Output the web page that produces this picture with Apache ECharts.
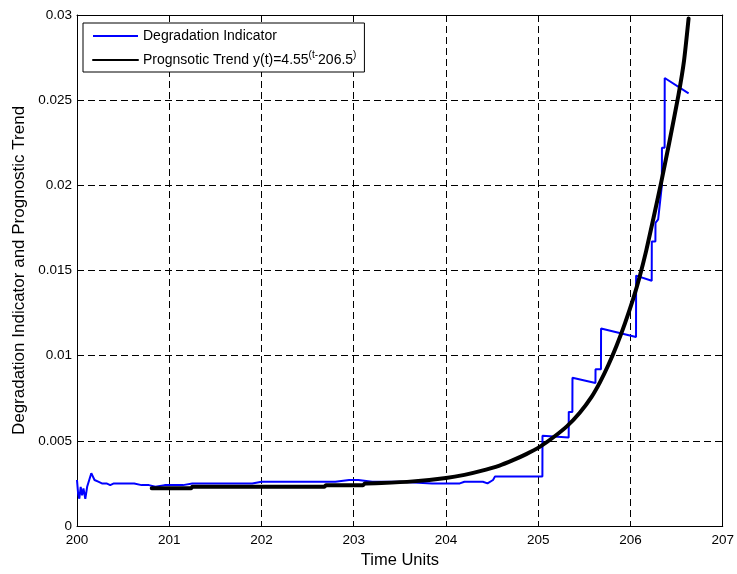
<!DOCTYPE html>
<html>
<head>
<meta charset="utf-8">
<script src="https://cdn.jsdelivr.net/npm/echarts@6/dist/echarts.min.js"></script>
<style>
  html, body { margin: 0; padding: 0; background: #fff; }
  #chart { width: 737px; height: 574px; }
</style>
</head>
<body>
<div id="chart"></div>
<script>
// Degradation indicator samples (time, value)
const indicatorTime = [
  200.000, 200.012, 200.025, 200.040, 200.055, 200.070, 200.090, 200.110, 200.130, 200.155,
  200.190, 200.230, 200.270, 200.320, 200.360, 200.400, 200.420, 200.440, 200.500, 200.560,
  200.620, 200.700, 200.780, 200.850, 200.950, 201.050, 201.150, 201.250, 201.330, 201.450,
  201.600, 201.750, 201.900, 202.000, 202.200, 202.400, 202.600, 202.800, 202.950, 203.050,
  203.200, 203.500, 203.850, 203.950, 204.150, 204.200, 204.400, 204.450, 204.510, 204.530,
  204.730, 204.760, 205.045, 205.046, 205.330, 205.331, 205.370, 205.371, 205.620, 205.621,
  205.680, 205.681, 206.060, 206.061, 206.230, 206.231, 206.270, 206.271, 206.300, 206.340,
  206.341, 206.370, 206.371, 206.630
];
const indicatorValue = [
  0.0027, 0.0019, 0.0016, 0.0023, 0.0018, 0.0022, 0.0016, 0.0023, 0.0023, 0.0031,
  0.0027, 0.0026, 0.0025, 0.0025, 0.0024, 0.0025, 0.0026, 0.0025, 0.0025, 0.0025,
  0.0025, 0.0024, 0.0024, 0.0023, 0.0024, 0.0024, 0.0024, 0.0025, 0.0025, 0.0025,
  0.0025, 0.0025, 0.0025, 0.0026, 0.0026, 0.0026, 0.0026, 0.0026, 0.0027, 0.0027,
  0.0026, 0.0026, 0.0025, 0.0025, 0.0025, 0.0026, 0.0026, 0.0025, 0.0027, 0.0029,
  0.0029, 0.0029, 0.0029, 0.0053, 0.0052, 0.0067, 0.0067, 0.0087, 0.0084, 0.0092,
  0.0092, 0.0116, 0.0111, 0.0147, 0.0144, 0.0167, 0.0167, 0.0178, 0.0180, 0.0200,
  0.0222, 0.0222, 0.0263, 0.0254
];

// Prognostic trend samples (time, value)
const trendTime = [
  200.81, 201.24, 201.25, 202.68, 202.70, 203.10, 203.12, 203.30, 203.64, 204.00,
  204.20, 204.37, 204.58, 204.72, 204.87, 205.02, 205.15, 205.31, 205.45, 205.58,
  205.67, 205.76, 205.85, 205.94, 206.03, 206.10, 206.17, 206.25, 206.33, 206.42,
  206.52, 206.58, 206.63
];
const trendValue = [
  0.00222, 0.00222, 0.00231, 0.00231, 0.00239, 0.00239, 0.00250, 0.00252, 0.00262, 0.00282,
  0.00300, 0.00322, 0.00355, 0.00385, 0.00422, 0.00466, 0.00515, 0.00585, 0.00665, 0.00760,
  0.00845, 0.00945, 0.01060, 0.01190, 0.01335, 0.01465, 0.01615, 0.01810, 0.02010, 0.02250,
  0.02530, 0.02730, 0.02980
];

const xTicks = { min: 200, max: 207, step: 1 };
const yTicks = { min: 0, max: 0.03, step: 0.005 };

const indicatorName = 'Degradation Indicator';
const trendName = 'Prognsotic Trend';

const pair = (ts, vs) => ts.map((t, i) => [t, vs[i]]);

const font = '"Liberation Sans", Arial, sans-serif';
const dash = [7, 4];

const chart = echarts.init(document.getElementById('chart'), null, { renderer: 'canvas' });

const baseAxis = {
  type: 'value',
  axisLine: { show: true, onZero: false, lineStyle: { color: '#000', width: 1 } },
  axisTick: { show: true, inside: true, length: 5, lineStyle: { color: '#000' } },
  axisLabel: { color: '#000', fontFamily: font, fontSize: 13.5 },
  splitLine: { show: false }
};

chart.setOption({
  animation: false,
  backgroundColor: '#fff',
  grid: { left: 77, right: 14, top: 15, bottom: 48, containLabel: false },
  legend: {
    orient: 'vertical',
    left: 83,
    top: 23,
    padding: [6, 8, 5, 9],
    itemGap: 7,
    itemWidth: 45,
    itemHeight: 14,
    backgroundColor: '#fff',
    borderColor: '#000',
    borderWidth: 1,
    borderRadius: 0,
    itemStyle: { opacity: 0 },
    data: [indicatorName, trendName],
    textStyle: {
      color: '#000', fontFamily: font, fontSize: 14,
      rich: {
        n: { fontFamily: font, fontSize: 14, color: '#000' },
        sup: { fontFamily: font, fontSize: 10, color: '#000', padding: [0, 0, 10, 0] }
      }
    },
    formatter: function (name) {
      if (name === trendName) {
        return '{n|Prognsotic Trend y(t)=4.55}{sup|(t-}{n|206.5}{sup|)}';
      }
      return '{n|' + name + '}';
    }
  },
  xAxis: [
    Object.assign({}, baseAxis, {
      min: xTicks.min, max: xTicks.max, interval: xTicks.step,
      position: 'bottom',
      name: 'Time Units',
      nameLocation: 'middle',
      nameGap: 24,
      nameTextStyle: { color: '#000', fontFamily: font, fontSize: 16.5 },
      axisLabel: { color: '#000', fontFamily: font, fontSize: 13.5, margin: 7 },
      splitLine: { show: true, lineStyle: { color: '#000', type: dash, width: 1 } }
    }),
    Object.assign({}, baseAxis, {
      min: xTicks.min, max: xTicks.max, interval: xTicks.step,
      position: 'top',
      axisLabel: { show: false }
    })
  ],
  yAxis: [
    Object.assign({}, baseAxis, {
      min: yTicks.min, max: yTicks.max, interval: yTicks.step,
      position: 'left',
      name: 'Degradation Indicator and Prognostic Trend',
      nameLocation: 'middle',
      nameGap: 47,
      nameTextStyle: { color: '#000', fontFamily: font, fontSize: 17 },
      axisLabel: {
        color: '#000', fontFamily: font, fontSize: 13.5, margin: 5,
        formatter: v => String(+v.toFixed(3))
      },
      splitLine: { show: true, lineStyle: { color: '#000', type: dash, width: 1 } }
    }),
    Object.assign({}, baseAxis, {
      min: yTicks.min, max: yTicks.max, interval: yTicks.step,
      position: 'right',
      axisLabel: { show: false }
    })
  ],
  series: [
    {
      name: indicatorName,
      type: 'line',
      data: pair(indicatorTime, indicatorValue),
      symbol: 'none',
      smooth: false,
      lineStyle: { color: '#0000ff', width: 2 },
      itemStyle: { color: '#0000ff' },
      z: 3
    },
    {
      name: trendName,
      type: 'line',
      data: pair(trendTime, trendValue),
      symbol: 'none',
      smooth: 0.2,
      lineStyle: { color: '#000', width: 4, join: 'round', cap: 'round' },
      itemStyle: { color: '#000' },
      z: 4
    }
  ]
});
</script>
</body>
</html>
